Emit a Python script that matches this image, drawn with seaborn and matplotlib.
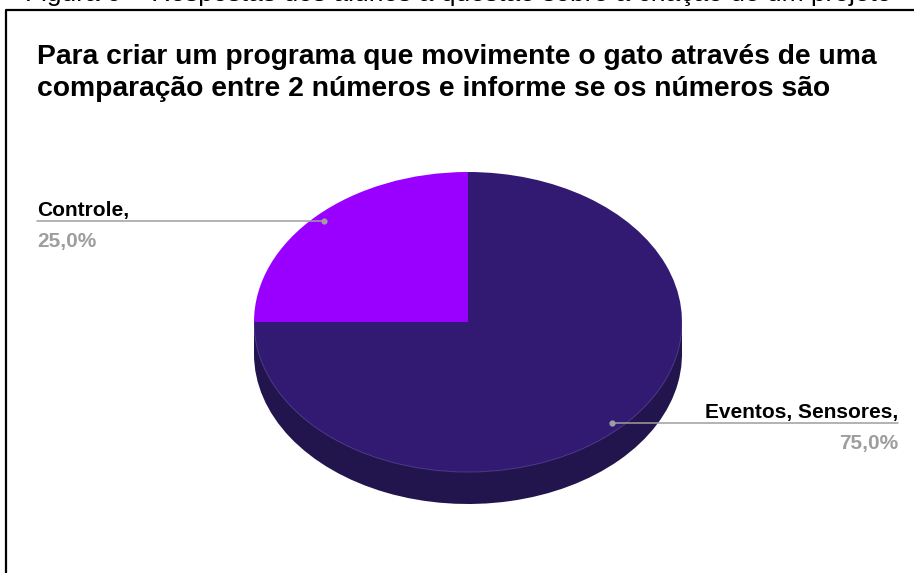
import matplotlib
matplotlib.use("Agg")
import matplotlib.pyplot as plt
import seaborn as sns
import numpy as np
from matplotlib.patches import Rectangle, Arc

# Answers to the question, as percentage of students
categories = ["Controle", "Eventos, Sensores"]
shares = [25.0, 75.0]
top_colors = ["#9900FF", "#321A72"]
side_colors = ["#5C0099", "#22154E"]

title = ("Para criar um programa que movimente o gato através de uma\n"
         "comparação entre 2 números e informe se os números são")
caption = "Figura 9 – Respostas dos alunos à questão sobre a criação de um projeto"

sns.set_theme(style="white")
plt.rcParams["font.family"] = ["Liberation Sans", "DejaVu Sans"]

W, H = 914, 573
fig = plt.figure(figsize=(W / 100, H / 100), dpi=100)
fig.patch.set_facecolor("white")

# tilted pie: ellipse with horizontal radius rx, vertical radius ry, and depth
cx, cy, rx, ry, depth = 468, 322, 214, 150, 32
left, top, bottom = cx - rx, cy - ry, cy + ry + depth
ax = fig.add_axes([left / W, 1 - bottom / H, 2 * rx / W, (bottom - top) / H])
ax.set_zorder(1)
d = depth / ry

# side of the disc
ax.pie(shares, colors=side_colors, startangle=90, center=(0, -d),
       wedgeprops=dict(linewidth=0))
ax.add_patch(Rectangle((-1, -d), 2, d, facecolor=side_colors[1], lw=0))
# top face
wedges, _ = ax.pie(shares, colors=top_colors, startangle=90,
                   wedgeprops=dict(linewidth=0))
# faint rim along the front edge of the top face
ax.add_patch(Arc((0, 0), 2, 2, theta1=180, theta2=360,
                 color="#4B3A88", lw=0.7))
ax.set_aspect("auto")
ax.set_xlim(-1, 1)
ax.set_ylim(-1 - d, 1)
ax.axis("off")

# overlay axes in pixel units (y grows downward), drawn above the pie
bg = fig.add_axes([0, 0, 1, 1])
bg.set_zorder(2)
bg.patch.set_visible(False)
bg.set_xlim(0, W)
bg.set_ylim(H, 0)
bg.axis("off")

# frame and clipped caption above it
bg.plot([6, 6, W + 5], [H + 5, 10, 10], color="black", lw=1.6,
        clip_on=False, solid_capstyle="projecting")
bg.text(25, 1, caption, fontsize=19, color="black", va="baseline", ha="left")

# title
bg.text(37, 44, title, fontsize=20.3, fontweight="bold", color="black",
        va="top", ha="left", linespacing=1.32)

# leader lines and labels
line_color = "#9E9E9E"
to_bg = bg.transData.inverted()
for name, value, w in zip(categories, shares, wedges):
    theta = np.deg2rad((w.theta1 + w.theta2) / 2)
    px, py = 0.95 * np.cos(theta), 0.95 * np.sin(theta)
    dx, dy = to_bg.transform(ax.transData.transform((px, py)))
    if np.cos(theta) < 0:
        tx, ha = 37, "left"
    else:
        tx, ha = 898, "right"
    bg.plot([dx, tx], [dy, dy], color=line_color, lw=1.1)
    bg.plot(dx, dy, "o", ms=4.5, color=line_color, mec="none")
    bg.text(tx, dy - 5, f"{name},", fontsize=15, fontweight="bold",
            color="black", ha=ha, va="baseline")
    pct = f"{value:.1f}%".replace(".", ",")
    bg.text(tx, dy + 11, pct, fontsize=15, fontweight="bold",
            color="#9E9E9E", ha=ha, va="top")

fig.savefig("out.png", dpi=100, facecolor="white")
